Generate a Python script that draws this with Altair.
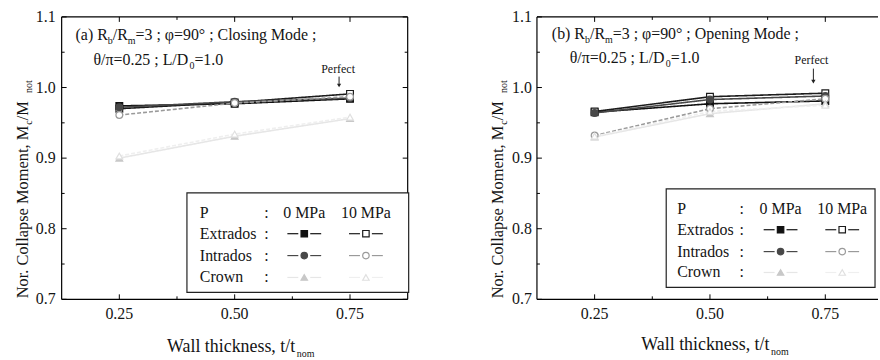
import altair as alt
import pandas as pd

FONT = "Liberation Serif"

# ---------------- data ----------------
t_values = [0.25, 0.50, 0.75]
series_names = ["Extrados 0 MPa", "Extrados 10 MPa", "Intrados 0 MPa",
                "Intrados 10 MPa", "Crown 0 MPa", "Crown 10 MPa"]

closing_extrados_0 = [0.974, 0.977, 0.984]
closing_extrados_10 = [0.970, 0.979, 0.991]
closing_intrados_0 = [0.972, 0.980, 0.985]
closing_intrados_10 = [0.961, 0.978, 0.987]
closing_crown_0 = [0.900, 0.931, 0.956]
closing_crown_10 = [0.903, 0.934, 0.958]

opening_extrados_0 = [0.965, 0.977, 0.981]
opening_extrados_10 = [0.966, 0.987, 0.992]
opening_intrados_0 = [0.964, 0.983, 0.988]
opening_intrados_10 = [0.932, 0.970, 0.984]
opening_crown_0 = [0.930, 0.963, 0.977]
opening_crown_10 = [0.931, 0.966, 0.975]

x_major = [0.25, 0.50, 0.75]
x_major_labels = ["0.25", "0.50", "0.75"]
x_minor = [0.375, 0.625]
y_major = [0.7, 0.8, 0.9, 1.0, 1.1]
y_major_labels = ["0.7", "0.8", "0.9", "1.0", "1.1"]
y_minor = [0.75, 0.85, 0.95, 1.05]

legend_rows = ["Extrados", "Intrados", "Crown"]
legend_cols = ["0 MPa", "10 MPa"]

# ---------------- styles ----------------
line_colors = ["#111111", "#1c1c1c", "#484848", "#9a9a9a", "#e6e6e6", "#efefef"]
stroke_colors = ["#111111", "#1c1c1c", "#484848", "#9a9a9a", "#c8c8c8", "#e0e0e0"]
fill_colors = ["#111111", "#ffffff", "#484848", "#ffffff", "#c8c8c8", "#ffffff"]
shapes = ["square", "square", "circle", "circle", "triangle-up", "triangle-up"]
dashes = [[1, 0], [1, 0], [1, 0], [4, 2], [1, 0], [4, 2]]

line_scale = alt.Scale(domain=series_names, range=line_colors)
color_scale = alt.Scale(domain=series_names, range=stroke_colors)
fill_scale = alt.Scale(domain=series_names, range=fill_colors)
shape_scale = alt.Scale(domain=series_names, range=shapes)
dash_scale = alt.Scale(domain=series_names, range=dashes)

H = 284
TXT = "#141414"

TW = {' ': 250, '(': 333, ')': 333, 'a': 444, 'b': 500, 'c': 444, 'd': 500, 'e': 444,
      'f': 333, 'g': 500, 'h': 500, 'i': 278, 'k': 500, 'l': 278, 'm': 778, 'n': 500,
      'o': 500, 'p': 500, 'r': 333, 's': 389, 't': 278, 'u': 500, 'v': 500, 'w': 722,
      'C': 667, 'D': 722, 'L': 611, 'M': 889, 'N': 722, 'O': 722, 'P': 556, 'R': 667,
      'W': 944, '.': 250, ',': 250, '/': 278, '=': 564, ';': 278, ':': 278, '°': 400,
      'φ': 540, 'θ': 500, 'π': 550}


def tw(s, fs):
    return sum(TW.get(c, 500) for c in s) / 1000.0 * fs


def pieces_h(pieces, x, y):
    rows = []
    for txt, fs, dy in pieces:
        rows.append(dict(px=x, py=y + dy, txt=txt, fs=fs))
        x += tw(txt, fs)
    return rows


def pieces_v(pieces, x, y):
    rows = []
    for txt, fs, dx in pieces:
        rows.append(dict(px=x + dx, py=y, txt=txt, fs=fs))
        y -= tw(txt, fs)
    return rows


def text_layer(rows, angle=0, align="left", baseline="alphabetic", color=TXT):
    return alt.Chart(pd.DataFrame(rows)).mark_text(
        font=FONT, align=align, baseline=baseline, angle=angle, color=color
    ).encode(
        x=alt.X("px:Q", scale=None, axis=None),
        y=alt.Y("py:Q", scale=None, axis=None),
        text="txt:N",
        size=alt.Size("fs:Q", scale=None, legend=None),
    )


def vrule(x, y1, y2, color="black", w=1.0):
    return alt.Chart(pd.DataFrame({"k": [0]})).mark_rule(color=color, strokeWidth=w).encode(
        x=alt.value(x), y=alt.value(y1), y2=alt.value(y2))


def hrule(y, x1, x2, color="black", w=1.0):
    return alt.Chart(pd.DataFrame({"k": [0]})).mark_rule(color=color, strokeWidth=w).encode(
        y=alt.value(y), x=alt.value(x1), x2=alt.value(x2))


def panel(vals, W, xmax, title1, title2, xtitle, perfect, leg, right_border, lab_pad):
    rows = []
    for name, v in zip(series_names, vals):
        for t, m in zip(t_values, v):
            rows.append(dict(s=name, t=t, m=m))
    df = pd.DataFrame(rows)
    xs = alt.Scale(domain=[0.125, xmax], nice=False, zero=False)
    ys = alt.Scale(domain=[0.7, 1.1], nice=False, zero=False)

    layers = []
    lines = alt.Chart(df).mark_line(strokeWidth=1.6).encode(
        x=alt.X("t:Q", scale=xs, axis=None),
        y=alt.Y("m:Q", scale=ys, axis=None),
        color=alt.Color("s:N", scale=line_scale, legend=None),
        strokeDash=alt.StrokeDash("s:N", scale=dash_scale, legend=None),
    )
    layers.append(lines)
    pts = alt.Chart(df).mark_point(filled=True, opacity=1, size=46, strokeWidth=1.2).encode(
        x=alt.X("t:Q", scale=xs, axis=None),
        y=alt.Y("m:Q", scale=ys, axis=None),
        shape=alt.Shape("s:N", scale=shape_scale, legend=None),
        fill=alt.Fill("s:N", scale=fill_scale, legend=None),
        stroke=alt.Stroke("s:N", scale=color_scale, legend=None),
    )
    layers.append(pts)

    # tick labels through the scales
    xl = pd.DataFrame({"v": x_major, "lab": x_major_labels})
    layers.append(alt.Chart(xl).mark_text(
        font=FONT, fontSize=16, color=TXT, baseline="top", align="center").encode(
        x=alt.X("v:Q", scale=xs, axis=None), y=alt.value(H + 7), text="lab:N"))
    yl = pd.DataFrame({"v": y_major, "lab": y_major_labels})
    layers.append(alt.Chart(yl).mark_text(
        font=FONT, fontSize=16, color=TXT, baseline="middle", align="right").encode(
        y=alt.Y("v:Q", scale=ys, axis=None), x=alt.value(-lab_pad), text="lab:N"))

    # inward ticks
    for vals_, ln in ((x_major, 5), (x_minor, 3)):
        d = pd.DataFrame({"v": vals_})
        layers.append(alt.Chart(d).mark_rule(color="black").encode(
            x=alt.X("v:Q", scale=xs, axis=None), y=alt.value(H), y2=alt.value(H - ln)))
        layers.append(alt.Chart(d).mark_rule(color="black").encode(
            x=alt.X("v:Q", scale=xs, axis=None), y=alt.value(0), y2=alt.value(ln)))
    for vals_, ln in ((y_major, 5), (y_minor, 3)):
        d = pd.DataFrame({"v": vals_})
        layers.append(alt.Chart(d).mark_rule(color="black").encode(
            y=alt.Y("v:Q", scale=ys, axis=None), x=alt.value(0), x2=alt.value(ln)))
        if right_border:
            layers.append(alt.Chart(d).mark_rule(color="black").encode(
                y=alt.Y("v:Q", scale=ys, axis=None), x=alt.value(W), x2=alt.value(W - ln)))

    # frame
    layers.append(hrule(0, 0, W, w=1.2))
    layers.append(hrule(H, 0, W, w=1.2))
    layers.append(vrule(0, 0, H, w=1.2))
    if right_border:
        layers.append(vrule(W, 0, H, w=1.2))

    # annotation text
    layers.append(text_layer(pieces_h(title1[0], title1[1], title1[2])))
    layers.append(text_layer(pieces_h(title2[0], title2[1], title2[2])))

    # perfect arrow
    px, py, ax, ay1, ay2 = perfect
    layers.append(text_layer([dict(px=px, py=py, txt="Perfect", fs=12)], align="center"))
    layers.append(vrule(ax, ay1, ay2, color="#222"))
    layers.append(alt.Chart(pd.DataFrame({"k": [0]})).mark_point(
        shape="triangle-down", filled=True, color="#222", size=18, opacity=1).encode(
        x=alt.value(ax), y=alt.value(ay2)))

    # axis titles
    yt = pieces_v([("Nor. Collapse Moment, M", 16.5, 0), ("c", 10, 4),
                   ("  /M", 16.5, 0), ("not", 10, 4)], -34, 283)
    layers.append(text_layer(yt, angle=270))
    xt_rows = pieces_h([(xtitle[0], 18, 0), ("nom", 10, 5)], xtitle[1], xtitle[2])
    layers.append(text_layer(xt_rows))

    # legend box
    bx1, bx2, by1, by2, tx, cx, c0, c1, ry = leg
    layers.append(alt.Chart(pd.DataFrame({"k": [0]})).mark_rect(
        fill="white", stroke="#222", strokeWidth=1.2).encode(
        x=alt.value(bx1), x2=alt.value(bx2), y=alt.value(by1), y2=alt.value(by2)))
    ltxt = [dict(px=tx, py=ry[0], txt="P", fs=16)]
    for i, r in enumerate(legend_rows):
        ltxt.append(dict(px=tx, py=ry[i + 1], txt=r, fs=16))
    layers.append(text_layer(ltxt, baseline="middle"))
    colon = [dict(px=cx, py=ry[i], txt=":", fs=16) for i in range(4)]
    colon += [dict(px=c0, py=ry[0], txt=legend_cols[0], fs=16),
              dict(px=c1, py=ry[0], txt=legend_cols[1], fs=16)]
    layers.append(text_layer(colon, align="center", baseline="middle"))
    seg = []
    mk = []
    for i, name in enumerate(series_names):
        cxx = c0 if i % 2 == 0 else c1
        yy = ry[1 + i // 2]
        seg.append(dict(s=name, x1=cxx - 17, x2=cxx - 6, y=yy))
        seg.append(dict(s=name, x1=cxx + 6, x2=cxx + 17, y=yy))
        mk.append(dict(s=name, x=cxx, y=yy))
    layers.append(alt.Chart(pd.DataFrame(seg)).mark_rule(strokeWidth=1.2).encode(
        x=alt.X("x1:Q", scale=None, axis=None), x2="x2:Q",
        y=alt.Y("y:Q", scale=None, axis=None),
        color=alt.Color("s:N", scale=color_scale, legend=None),
    ))
    layers.append(alt.Chart(pd.DataFrame(mk)).mark_point(
        filled=True, opacity=1, size=42, strokeWidth=1.2).encode(
        x=alt.X("x:Q", scale=None, axis=None),
        y=alt.Y("y:Q", scale=None, axis=None),
        shape=alt.Shape("s:N", scale=shape_scale, legend=None),
        fill=alt.Fill("s:N", scale=fill_scale, legend=None),
        stroke=alt.Stroke("s:N", scale=color_scale, legend=None),
    ))

    # invisible bounding box to fix layout
    layers.append(alt.Chart(pd.DataFrame({"k": [0]})).mark_rect(opacity=0).encode(
        x=alt.value(-61), x2=alt.value(W + (476 - 61 - 348) if right_border else W),
        y=alt.value(-15), y2=alt.value(H + 61)))
    return alt.layer(*layers).properties(width=W, height=H)


closing = [closing_extrados_0, closing_extrados_10, closing_intrados_0,
           closing_intrados_10, closing_crown_0, closing_crown_10]
opening = [opening_extrados_0, opening_extrados_10, opening_intrados_0,
           opening_intrados_10, opening_crown_0, opening_crown_10]

left = panel(
    closing, 348, 0.875,
    ([("(a) R", 16, 0), ("b", 10, 4), ("/R", 16, 0), ("m", 10, 4),
      ("=3 ; φ=90° ; Closing Mode ;", 16, 0)], 75 - 61, 38 - 15),
    ([("θ/π=0.25 ; L/D", 16, 0), ("0", 10, 4), ("=1.0", 16, 0)], 93 - 61, 63 - 15),
    ("Wall thickness, t/t", 167 - 61, 352 - 15),
    (339 - 61, 71 - 15, 340 - 61, 75 - 15, 84 - 15),
    (126, 349, 177, 277, 139, 206, 244, 306, [197, 218, 240, 262]),
    True, 6,
)
right = panel(
    opening, 343, 0.125 + 343 / 348 * 0.75,
    ([("(b) R", 16, 0), ("b", 10, 4), ("/R", 16, 0), ("m", 10, 4),
      ("=3 ; φ=90° ; Opening Mode ;", 16, 0)], 552 - 537, 37 - 15),
    ([("θ/π=0.25 ; L/D", 16, 0), ("0", 10, 4), ("=1.0", 16, 0)], 570 - 537, 61 - 15),
    ("Wall thickness, t/t", 642 - 537, 350 - 15),
    (813 - 537, 62 - 15, 815 - 537, 67 - 15, 80 - 15),
    (130, 340, 173, 272, 141, 206, 245, 307, [193, 214, 236, 257]),
    False, 5,
)

chart = alt.hconcat(left, right, spacing=0).properties(padding=0).configure_view(
    stroke="transparent")

chart.save("out.html", embed_options={"renderer": "svg", "actions": False})
